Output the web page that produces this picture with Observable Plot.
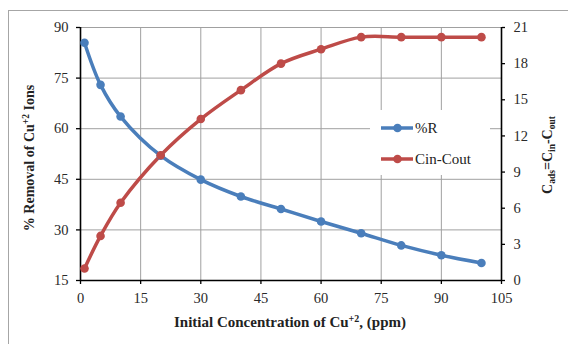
<!DOCTYPE html>
<html>
<head>
<meta charset="utf-8">
<script src="https://cdn.jsdelivr.net/npm/d3@7"></script>
<script src="https://cdn.jsdelivr.net/npm/@observablehq/plot@0.6"></script>
<style>
  html, body { margin: 0; padding: 0; background: #fff; overflow: hidden; }
  #wrap { position: relative; width: 568px; height: 344px; overflow: hidden; }
  #frame { position: absolute; left: 8px; top: 10px; width: 700px; height: 500px; border: 1px solid #a6a6a6; box-sizing: border-box; }
  #chart { position: absolute; left: 0; top: 0; }
  #chart svg, #chart svg text { font-family: 'Liberation Serif', 'Times New Roman', serif !important; }
</style>
</head>
<body>
<div id="wrap"><div id="frame"></div><div id="chart"></div></div>
<script>
// Data
const concentration = [1, 5, 10, 20, 30, 40, 50, 60, 70, 80, 90, 100];
const removalPct = [85.5, 73.0, 63.6, 52.0, 44.9, 39.9, 36.2, 32.5, 29.0, 25.4, 22.5, 20.2];
const cinMinusCout = [1.0, 3.7, 6.45, 10.4, 13.4, 15.8, 18.0, 19.2, 20.2, 20.2, 20.2, 20.2];

const xTicks = [0, 15, 30, 45, 60, 75, 90, 105];
const leftTicks = [15, 30, 45, 60, 75, 90];
const rightTicks = [0, 3, 6, 9, 12, 15, 18, 21];
const seriesNames = ["%R", "Cin-Cout"];
const seriesColors = ["#4a7ebb", "#be4b48"];

// map right-axis values onto the left scale
const L0 = 15, L1 = 90, R0 = 0, R1 = 21;
const toLeft = v => L0 + (v - R0) * (L1 - L0) / (R1 - R0);
const fromLeft = v => R0 + (v - L0) * (R1 - R0) / (L1 - L0);

const blue = concentration.map((x, i) => ({x, y: removalPct[i]}));
const red = concentration.map((x, i) => ({x, y: toLeft(cinMinusCout[i])}));

const font = "'Liberation Serif', 'Times New Roman', serif";

const chart = Plot.plot({
  width: 568,
  height: 344,
  marginLeft: 80,
  marginRight: 67,
  marginTop: 27,
  marginBottom: 64,
  style: {fontFamily: font, fontSize: "14.5px", color: "#2a2a2a", background: "transparent", overflow: "visible"},
  x: {domain: [0, 105]},
  y: {domain: [15, 90]},
  marks: [
    Plot.gridX(xTicks.filter(d => d > 0 && d < 105), {stroke: "#a0a0a0", strokeOpacity: 1, strokeWidth: 1}),
    Plot.gridY(leftTicks.filter(d => d > 15), {stroke: "#a0a0a0", strokeOpacity: 1, strokeWidth: 1}),
    Plot.axisX({ticks: xTicks, tickSize: 4, tickPadding: 8, label: null, stroke: "#000", strokeWidth: 1.3, fontFamily: font}),
    Plot.axisY({ticks: leftTicks, anchor: "left", tickSize: 4, tickPadding: 8, label: null, stroke: "#000", strokeWidth: 1.3, fontFamily: font}),
    Plot.axisY({ticks: rightTicks.map(toLeft), anchor: "right", tickSize: 3, tickPadding: 9, label: null, fontFamily: font,
      tickFormat: d => String(Math.round(fromLeft(d))), stroke: "#000", strokeWidth: 1.3}),
    Plot.ruleX([0], {stroke: "#000", strokeWidth: 1.6}),
    Plot.ruleX([105], {stroke: "#000", strokeWidth: 1.6}),
    Plot.ruleY([15], {stroke: "#000", strokeWidth: 1.6}),
    Plot.line(blue, {x: "x", y: "y", stroke: seriesColors[0], strokeWidth: 3.5, curve: "catmull-rom"}),
    Plot.line(red, {x: "x", y: "y", stroke: seriesColors[1], strokeWidth: 3.5, curve: "catmull-rom"}),
    Plot.dot(blue, {x: "x", y: "y", fill: seriesColors[0], r: 4.3}),
    Plot.dot(red, {x: "x", y: "y", fill: seriesColors[1], r: 4.3})
  ]
});
document.getElementById("chart").appendChild(chart);

const svg = d3.select(chart);

// Legend (white box inside plot)
const lg = svg.append("g").attr("transform", "translate(370,110)");
lg.append("rect").attr("width", 120).attr("height", 65).attr("fill", "#fff");
seriesNames.forEach((name, i) => {
  const yy = 18 + i * 31;
  lg.append("line").attr("x1", 11).attr("x2", 43).attr("y1", yy).attr("y2", yy)
    .attr("stroke", seriesColors[i]).attr("stroke-width", 3.5);
  lg.append("circle").attr("cx", 27.5).attr("cy", yy).attr("r", 4.3).attr("fill", seriesColors[i]);
  lg.append("text").attr("x", 45).attr("y", yy + 5).attr("text-anchor", "start")
    .attr("font-size", "15px").attr("fill", "#222").text(name);
});

// X title
const xt = svg.append("text").attr("x", 290).attr("y", 327).attr("text-anchor", "middle")
  .attr("font-size", "15px").attr("font-weight", "bold").attr("fill", "#222");
xt.append("tspan").text("Initial Concentration of Cu");
xt.append("tspan").attr("dy", -5).attr("font-size", "10px").text("+2");
xt.append("tspan").attr("dy", 5).text(", (ppm)");

// Left title
const yt = svg.append("text").attr("transform", "translate(34,158) rotate(-90)").attr("text-anchor", "middle")
  .attr("font-size", "14px").attr("font-weight", "bold").attr("fill", "#222");
yt.append("tspan").text("% Removal of Cu");
yt.append("tspan").attr("dy", -5).attr("font-size", "9.5px").text("+2");
yt.append("tspan").attr("dy", 5).text(" Ions");

// Right title
const rt = svg.append("text").attr("transform", "translate(552,155) rotate(-90)").attr("text-anchor", "middle")
  .attr("font-size", "14px").attr("font-weight", "bold").attr("fill", "#222");
rt.append("tspan").text("C");
rt.append("tspan").attr("dy", 3).attr("font-size", "9.5px").text("ads");
rt.append("tspan").attr("dy", -3).text("=C");
rt.append("tspan").attr("dy", 3).attr("font-size", "9.5px").text("in");
rt.append("tspan").attr("dy", -3).text("-C");
rt.append("tspan").attr("dy", 3).attr("font-size", "9.5px").text("out");
</script>
</body>
</html>
